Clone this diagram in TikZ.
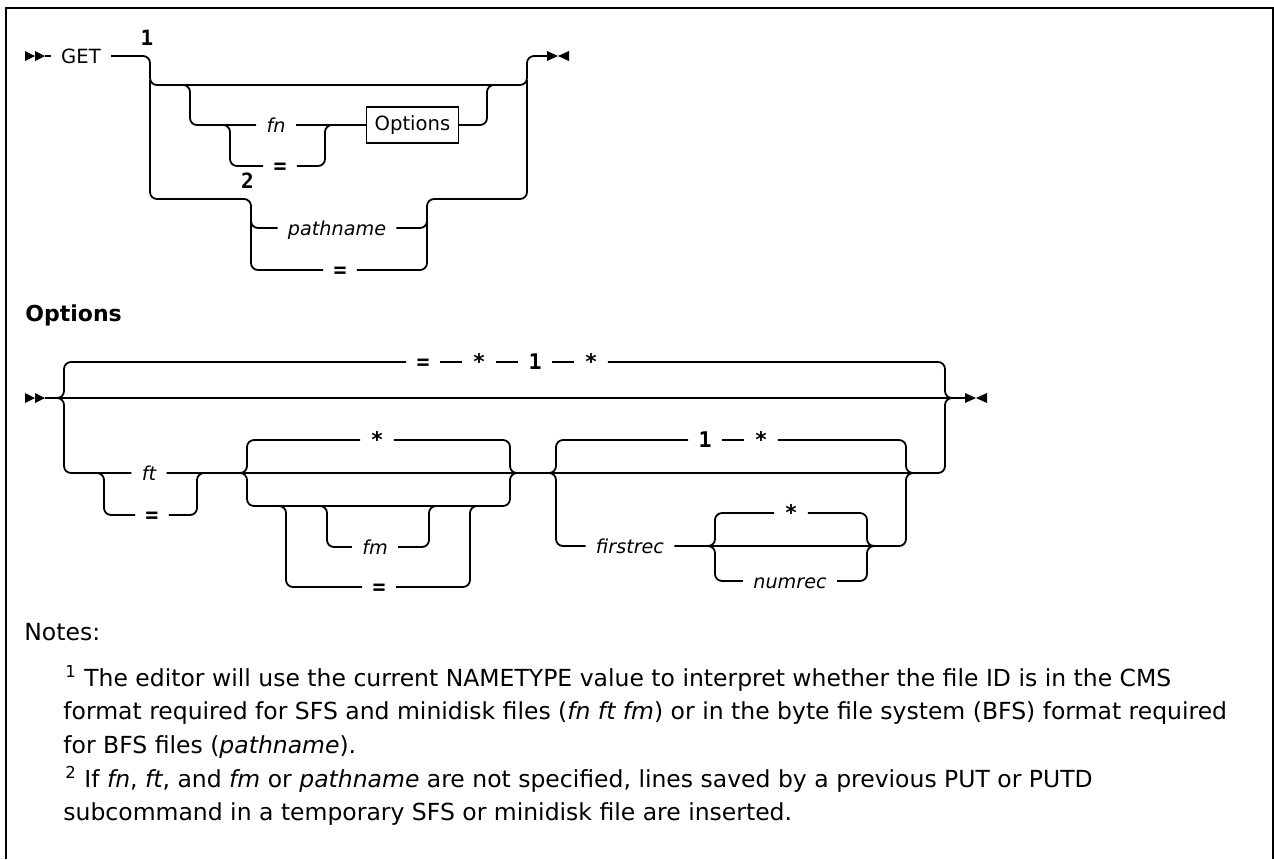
\documentclass[tikz,border=0pt]{standalone}
\usepackage{fontspec}
\setmainfont{DejaVu Sans}
\setmonofont{DejaVu Sans Mono}
\usetikzlibrary{positioning}

\tikzset{
  rail/.style={line width=0.9pt, rounded corners=3.5pt},
  lbl/.style={inner xsep=5pt, inner ysep=0pt, text height=7.2pt, text depth=0pt, font=\fontsize{9.8}{12}\selectfont},
  varlbl/.style={lbl, font=\fontsize{9.6}{12}\selectfont\itshape},
  litlbl/.style={lbl, inner xsep=5pt, font=\fontsize{10.8}{12}\selectfont\ttfamily\bfseries},
  refno/.style={inner sep=0pt, font=\fontsize{10.5}{12}\selectfont\ttfamily\bfseries},
  notetxt/.style={anchor=base west, inner sep=0pt, font=\fontsize{11.75}{13}\selectfont},
  dblarrow/.pic={\fill (0,-5) -- (10,0) -- (0,5) -- cycle (10,-5) -- (20,0) -- (10,5) -- cycle;},
  endmark/.pic={\fill (0,-5) -- (11,0) -- (0,5) -- cycle (22,-5) -- (11,0) -- (22,5) -- cycle;}
}

\begin{document}
\begin{tikzpicture}[x=0.5pt, y=-0.5pt]
\useasboundingbox (0,0) rectangle (1274,859);
\draw[line width=1.1pt] (6,859) -- (6,8) -- (1273,8) -- (1273,859);

% GET
\pic at (25,56) {dblarrow}; \coordinate (s1) at (45,56);
\coordinate (e1) at (547,56); \pic at (e1) {endmark};
\node[lbl] (get) at (81,56) {GET};
\node[refno] (n1) at (147,38) {1}; \node[refno] (n2) at (247.5,181) {2};
\node[varlbl] (fn) at (276,125) {fn}; \node[litlbl] (fneq) at (280,166) {=};
\node[draw, line width=0.7pt, inner xsep=4pt, minimum height=18pt, font=\fontsize{9.8}{12}\selectfont] (optbox) at (412.5,125) {Options};
\node[varlbl] (pn) at (337,228) {pathname}; \node[litlbl] (pneq) at (340,270) {=};
\draw[rail] (s1) -- (get.west);
\draw[rail] (get.east) -| (150,85) -- (527,85) |- (e1);
\draw[rail] (182,85) -| (190,125) -- (fn.west); \draw[rail] (fn.east) -- (optbox.west);
\draw[rail] (optbox.east) -| (487,85) -- (495,85);
\draw[rail] (222,125) -| (230,166) -- (fneq.west); \draw[rail] (fneq.east) -| (325,125) -- (333,125);
\draw[rail] (150,80) |- (251,199) |- (pn.west); \draw[rail] (pn.east) -| (427,199) -| (527,80);
\draw[rail] (251,220) |- (pneq.west); \draw[rail] (pneq.east) -| (427,220);

% Options
\node[anchor=west, inner sep=0pt, font=\fontsize{11}{14}\selectfont\bfseries] (opthead) at (25,315) {Options};
\pic at (25,398) {dblarrow}; \coordinate (s2) at (45,398);
\coordinate (e2) at (965,398); \pic at (e2) {endmark};
\draw[rail] (s2) -- (e2);
\node[litlbl] (deq) at (423,362) {=}; \node[litlbl] (dst1) at (479,362) {*};
\node[litlbl] (done) at (535,362) {1}; \node[litlbl] (dst2) at (591,362) {*};
\draw[rail] (56,398) -| (64,362) -- (deq.west);
\draw[rail] (deq.east) -- (dst1.west) (dst1.east) -- (done.west) (done.east) -- (dst2.west);
\draw[rail] (dst2.east) -| (945,398) -- (953,398);
\node[varlbl] (ft) at (149,473) {ft}; \node[litlbl] (fteq) at (152,515) {=};
\draw[rail] (56,398) -| (64,473) -- (ft.west); \draw[rail] (ft.east) -| (945,398) -- (953,398);
\draw[rail] (96,473) -| (104,515) -- (fteq.west); \draw[rail] (fteq.east) -| (197,473) -- (205,473);
\node[litlbl] (fmst) at (377,440) {*};
\draw[rail] (239,473) -| (247,440) -- (fmst.west); \draw[rail] (fmst.east) -| (510,473) -- (518,473);
\draw[rail] (239,473) -| (247,506) -| (510,473) -- (518,473);
\node[varlbl] (fm) at (375,547) {fm}; \node[litlbl] (fmeq) at (379,587) {=};
\draw[rail] (319,506) -| (327,547) -- (fm.west); \draw[rail] (fm.east) -| (429,506) -- (437,506);
\draw[rail] (278,506) -| (286,587) -- (fmeq.west); \draw[rail] (fmeq.east) -| (470,506) -- (478,506);
\node[litlbl] (frone) at (705,440) {1}; \node[litlbl] (frst) at (761,440) {*};
\draw[rail] (548,473) -| (556,440) -- (frone.west); \draw[rail] (frone.east) -- (frst.west);
\draw[rail] (frst.east) -| (906,473) -- (914,473);
\node[varlbl] (fr) at (630,546) {firstrec};
\draw[rail] (548,473) -| (556,546) -- (fr.west); \draw[rail] (fr.east) -| (906,473) -- (914,473);
\node[litlbl] (nrst) at (791,513) {*}; \node[varlbl] (nr) at (790,581) {numrec};
\draw[rail] (707,546) -| (715,513) -- (nrst.west); \draw[rail] (nrst.east) -| (867,546) -- (875,546);
\draw[rail] (707,546) -| (715,581) -- (nr.west); \draw[rail] (nr.east) -| (867,546) -- (875,546);

% Notes
\node[notetxt] (notes) at (24,640) {Notes:};
\node[notetxt] (note1a) at (65,686) {\textsuperscript{1} The editor will use the current NAMETYPE value to interpret whether the file ID is in the CMS};
\node[notetxt] (note1b) at (63,719.5) {format required for SFS and minidisk files (\textit{fn ft fm}) or in the byte file system (BFS) format required};
\node[notetxt] (note1c) at (63,753) {for BFS files (\textit{pathname}).};
\node[notetxt] (note2a) at (65,787) {\textsuperscript{2} If \textit{fn}, \textit{ft}, and \textit{fm} or \textit{pathname} are not specified, lines saved by a previous PUT or PUTD};
\node[notetxt] (note2b) at (63,820.5) {subcommand in a temporary SFS or minidisk file are inserted.};
\end{tikzpicture}
\end{document}
